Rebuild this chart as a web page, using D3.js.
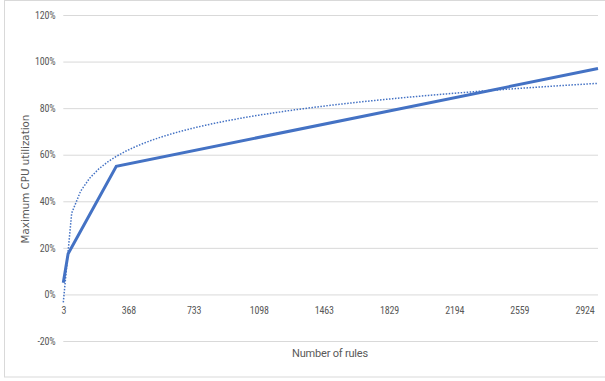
<!DOCTYPE html>
<html>
<head>
<meta charset="utf-8">
<script src="https://cdn.jsdelivr.net/npm/d3@7"></script>
<style>
  body { margin: 0; background: #fff; }
  .tick text { fill: #595959; font-family: "Liberation Sans Narrow", "Roboto Condensed", Roboto, sans-serif; font-size: 10px; letter-spacing: -0.2px; }
  .grid line { stroke: #d9d9d9; stroke-width: 1; }
  .line { fill: none; stroke: #4472c4; stroke-width: 3; }
  .trend { fill: none; stroke: #4472c4; stroke-width: 1.5; stroke-dasharray: 1.5 1.5; }
</style>
</head>
<body>
<div class="lineChart"></div>
<script>
const WIDTH = 605;
const HEIGHT = 381;

// plot area inside the svg
const LEFT = 63.3;
const RIGHT = 598;
const TOP = 15;
const BOTTOM = 341;

// data
var rules = [3, 30, 300, 3000];
var cpuUtil = [5, 17.5, 55, 97];

var xTicks = [3, 368, 733, 1098, 1463, 1829, 2194, 2559, 2924];
var yTicks = [-20, 0, 20, 40, 60, 80, 100, 120];

var xScale = d3.scaleLinear().domain([3, 3000]).range([LEFT, RIGHT]);
var yScale = d3.scaleLinear().domain([-20, 120]).range([BOTTOM, TOP]);

var svg = d3.select('.lineChart').append('svg')
    .attr('width', WIDTH)
    .attr('height', HEIGHT);

// chart border
svg.append('rect')
    .attr('x', 4.5).attr('y', 0.5)
    .attr('width', WIDTH + 10).attr('height', 376.5)
    .attr('fill', 'none')
    .attr('stroke', '#d9d9d9');

// horizontal gridlines + y labels
var yAxis = d3.axisLeft(yScale)
    .tickValues(yTicks)
    .tickSize(-(RIGHT - LEFT))
    .tickPadding(8)
    .tickFormat(function (d) { return d + '%'; });

var yAxisG = svg.append('g')
    .attr('class', 'grid')
    .attr('transform', 'translate(' + LEFT + ',0)')
    .call(yAxis);
yAxisG.select('.domain').remove();

// x labels, sit below the 0% line
var xAxis = d3.axisBottom(xScale).tickValues(xTicks).tickSize(0).tickPadding(12).tickFormat(d3.format('d'));
var xAxisG = svg.append('g')
    .attr('transform', 'translate(0,' + yScale(0) + ')')
    .call(xAxis);
xAxisG.select('.domain').remove();

// log trendline, least squares fit on the data
function logFit(xs, ys) {
    var lx = xs.map(function (v) { return Math.log(v); });
    var mx = d3.mean(lx), my = d3.mean(ys);
    var num = d3.sum(lx, function (v, i) { return (v - mx) * (ys[i] - my); });
    var den = d3.sum(lx, function (v) { return (v - mx) * (v - mx); });
    var a = num / den;
    return { a: a, b: my - a * mx };
}
var fit = logFit(rules, cpuUtil);
var trendX = d3.scaleLog().domain([3, 3000]).ticks(60);
trendX = [3].concat(trendX.filter(function (v) { return v > 3 && v < 3000; })).concat([3000]);

var trendLine = d3.line()
    .x(function (d) { return xScale(d); })
    .y(function (d) { return yScale(fit.a * Math.log(d) + fit.b); });

svg.append('path')
    .attr('class', 'trend')
    .attr('d', trendLine(trendX));

var line = d3.line()
    .x(function (d) { return xScale(d); })
    .y(function (d, i) { return yScale(cpuUtil[i]); });

svg.append('path')
    .attr('class', 'line')
    .attr('d', line(rules));

// axis titles
svg.append('text')
    .attr('transform', 'translate(29,179) rotate(-90)')
    .attr('text-anchor', 'middle')
    .attr('fill', '#595959')
    .style('font-family', '"DejaVu Sans", sans-serif')
    .style('font-size', '10.3px')
    .text('Maximum CPU utilization');

svg.append('text')
    .attr('x', 330)
    .attr('y', 357)
    .attr('text-anchor', 'middle')
    .attr('fill', '#595959')
    .style('font-family', '"Liberation Sans Narrow", Roboto, sans-serif')
    .style('font-size', '11px')
    .style('letter-spacing', '-0.2px')
    .text('Number of rules');
</script>
</body>
</html>
